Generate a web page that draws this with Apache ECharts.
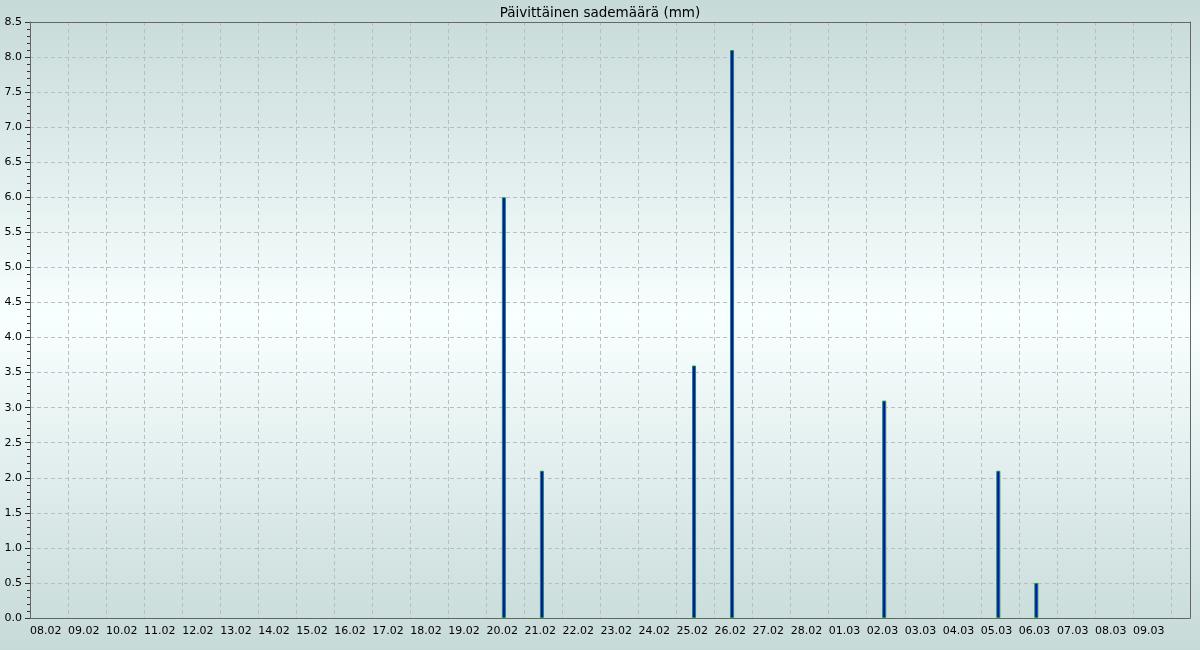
<!DOCTYPE html>
<html>
<head>
<meta charset="utf-8">
<script src="https://cdn.jsdelivr.net/npm/echarts@6/dist/echarts.min.js"></script>
<style>
html,body{margin:0;padding:0;}
#c{width:1200px;height:650px;}
</style>
</head>
<body>
<div id="c"></div>
<script>
const titleText = 'Päivittäinen sademäärä (mm)';
const dates = ['08.02','09.02','10.02','11.02','12.02','13.02','14.02','15.02','16.02','17.02','18.02','19.02','20.02','21.02','22.02','23.02','24.02','25.02','26.02','27.02','28.02','01.03','02.03','03.03','04.03','05.03','06.03','07.03','08.03','09.03'];
const rain =  [0,0,0,0,0,0,0,0,0,0,0,0,6.0,2.1,0,0,0,3.6,8.1,0,0,0,3.1,0,0,2.1,0.5,0,0,0];
const yTicks = [0,0.5,1,1.5,2,2.5,3,3.5,4,4.5,5,5.5,6,6.5,7,7.5,8,8.5];

const barOffset = 0.46; // bars drawn late in each day band
const barData = [];
rain.forEach((v, i) => { if (v > 0) barData.push([i + barOffset, v]); });

const font = 'DejaVu Sans';
const xMax = dates.length + 0.5;
const yMin = yTicks[0], yMax = yTicks[yTicks.length - 1];
const chart = echarts.init(document.getElementById('c'), null, {renderer: 'canvas'});
chart.setOption({
  animation: false,
  backgroundColor: {
    type: 'linear', x: 0, y: 0, x2: 0, y2: 1,
    colorStops: [
      {offset: 0, color: '#c6dad8'},
      {offset: 0.49, color: '#f8ffff'},
      {offset: 1, color: '#c6dad8'}
    ]
  },
  title: {
    text: titleText, left: 'center', top: 1,
    textStyle: {fontFamily: font, fontSize: 13.5, fontWeight: 'normal', color: '#000'}
  },
  grid: {left: 30, right: 10, top: 22, bottom: 32, show: false},
  xAxis: [{
    type: 'value', min: 0, max: xMax, interval: 1,
    axisLine: {show: true, lineStyle: {color: '#666', width: 1}},
    axisTick: {show: false},
    axisLabel: {
      fontFamily: font, fontSize: 11, color: '#000', align: 'left', margin: 8,
      showMaxLabel: false,
      formatter: v => (Number.isInteger(v) && dates[v]) ? dates[v] : ''
    },
    splitLine: {show: true, lineStyle: {color: '#bdbdbd', type: [4, 3], width: 1}}
  }, {
    type: 'value', position: 'top', min: 0, max: xMax, z: 5,
    axisLine: {show: true, onZero: false, lineStyle: {color: '#666', width: 1}},
    axisTick: {show: false}, axisLabel: {show: false}, splitLine: {show: false}
  }],
  yAxis: [{
    type: 'value', min: yMin, max: yMax, interval: 0.5,
    axisLine: {show: true, lineStyle: {color: '#666', width: 1}},
    axisTick: {show: true, length: 5, lineStyle: {color: '#333'}},
    minorTick: {show: true, splitNumber: 5, length: 3, lineStyle: {color: '#333'}},
    axisLabel: {fontFamily: font, fontSize: 11, color: '#000', margin: 8, formatter: v => v.toFixed(1)},
    splitLine: {show: true, lineStyle: {color: '#bdbdbd', type: [4, 3], width: 1}}
  }, {
    type: 'value', position: 'right', min: yMin, max: yMax, z: 5,
    axisLine: {show: true, onZero: false, lineStyle: {color: '#666', width: 1}},
    axisTick: {show: false}, axisLabel: {show: false}, splitLine: {show: false}
  }],
  series: [{
    type: 'bar', data: barData, barWidth: 4, xAxisIndex: 0, yAxisIndex: 0,
    itemStyle: {color: '#0000ff', borderColor: '#1a9a1a', borderWidth: 1}
  }]
});
</script>
</body>
</html>
